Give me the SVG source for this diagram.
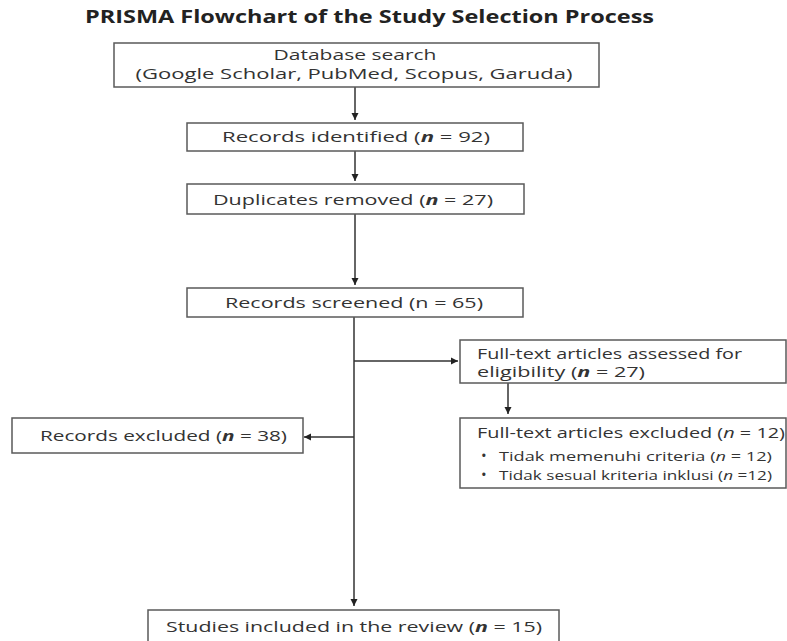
<svg xmlns="http://www.w3.org/2000/svg" width="787" height="641" viewBox="0 0 787 641">
  <style>
    .bg { fill: #ffffff; }
    .box { fill: #ffffff; stroke: #5a5a5a; stroke-width: 1.5; }
    .t { font-family: "Open Sans", "DejaVu Sans", sans-serif; font-size: 14.5px; fill: #333333; }
    .d { font-size: 14px; }
    .s { font-size: 12.5px; }
    .bul { font-family: "Open Sans", "DejaVu Sans", sans-serif; font-size: 15px; fill: #333333; }
    .title { font-family: "Open Sans", "DejaVu Sans", sans-serif; font-size: 17.5px; font-weight: bold; fill: #222222; }
    .bi { font-weight: bold; font-style: italic; }
    .it { font-style: italic; }
    .conn { stroke: #333333; stroke-width: 1.5; fill: none; }
  </style>
  <defs>
    <marker id="arrow" viewBox="0 0 10 10" refX="10" refY="5" markerWidth="7" markerHeight="8" orient="auto" markerUnits="userSpaceOnUse">
      <path d="M0,0 L10,5 L0,10 z" fill="#222222"/>
    </marker>
  </defs>
  <rect class="bg" x="0" y="0" width="787" height="641"/>

  <text id="title" class="title" x="85" y="23" textLength="569" lengthAdjust="spacingAndGlyphs">PRISMA Flowchart of the Study Selection Process</text>

  <g id="connectors">
    <line class="conn" x1="355" y1="87" x2="355" y2="120" marker-end="url(#arrow)"/>
    <line class="conn" x1="355" y1="151" x2="355" y2="181" marker-end="url(#arrow)"/>
    <line class="conn" x1="355" y1="214" x2="355" y2="285" marker-end="url(#arrow)"/>
    <line class="conn" x1="354" y1="317" x2="354" y2="606" marker-end="url(#arrow)"/>
    <line class="conn" x1="354" y1="361" x2="458" y2="361" marker-end="url(#arrow)"/>
    <line class="conn" x1="354" y1="437" x2="304" y2="437" marker-end="url(#arrow)"/>
    <line class="conn" x1="508" y1="383" x2="508" y2="414" marker-end="url(#arrow)"/>
  </g>

  <g id="database-search">
    <rect class="box" x="114" y="43" width="485" height="44"/>
    <text class="t d" x="355" y="60" text-anchor="middle" textLength="163" lengthAdjust="spacingAndGlyphs">Database search</text>
    <text class="t d" x="354" y="79" text-anchor="middle" textLength="437" lengthAdjust="spacingAndGlyphs">(Google Scholar, PubMed, Scopus, Garuda)</text>
  </g>

  <g id="records-identified">
    <rect class="box" x="187" y="123" width="336" height="28"/>
    <text class="t" x="356" y="142" text-anchor="middle" textLength="268" lengthAdjust="spacingAndGlyphs">Records identified (<tspan class="bi">n</tspan> = 92)</text>
  </g>

  <g id="duplicates-removed">
    <rect class="box" x="187" y="184" width="337" height="30"/>
    <text class="t" x="353" y="205" text-anchor="middle" textLength="280" lengthAdjust="spacingAndGlyphs">Duplicates removed (<tspan class="bi">n</tspan> = 27)</text>
  </g>

  <g id="records-screened">
    <rect class="box" x="187" y="288" width="336" height="29"/>
    <text class="t" x="354" y="308" text-anchor="middle" textLength="258" lengthAdjust="spacingAndGlyphs">Records screened (n = 65)</text>
  </g>

  <g id="fulltext-assessed">
    <rect class="box" x="460" y="340" width="326" height="43"/>
    <text class="t" x="477" y="359" textLength="265" lengthAdjust="spacingAndGlyphs">Full-text articles assessed for</text>
    <text class="t" x="477" y="377" textLength="168" lengthAdjust="spacingAndGlyphs">eligibility (<tspan class="bi">n</tspan> = 27)</text>
  </g>

  <g id="fulltext-excluded">
    <rect class="box" x="460" y="418" width="326" height="70"/>
    <text class="t" x="477" y="438" textLength="308" lengthAdjust="spacingAndGlyphs">Full-text articles excluded (<tspan class="it">n</tspan> = 12)</text>
    <text class="bul" x="481" y="461">•</text>
    <text class="t s" x="499" y="461" textLength="273" lengthAdjust="spacingAndGlyphs">Tidak memenuhi criteria (<tspan class="it">n</tspan> = 12)</text>
    <text class="bul" x="481" y="480">•</text>
    <text class="t s" x="499" y="480" textLength="273" lengthAdjust="spacingAndGlyphs">Tidak sesual kriteria inklusi (<tspan class="it">n</tspan> =12)</text>
  </g>

  <g id="records-excluded">
    <rect class="box" x="12" y="418" width="291" height="35"/>
    <text class="t" x="40" y="441" textLength="247" lengthAdjust="spacingAndGlyphs">Records excluded (<tspan class="bi">n</tspan> = 38)</text>
  </g>

  <g id="studies-included">
    <rect class="box" x="148" y="610" width="411" height="40"/>
    <text class="t" x="166" y="632" textLength="376" lengthAdjust="spacingAndGlyphs">Studies included in the review (<tspan class="bi">n</tspan> = 15)</text>
  </g>
</svg>
